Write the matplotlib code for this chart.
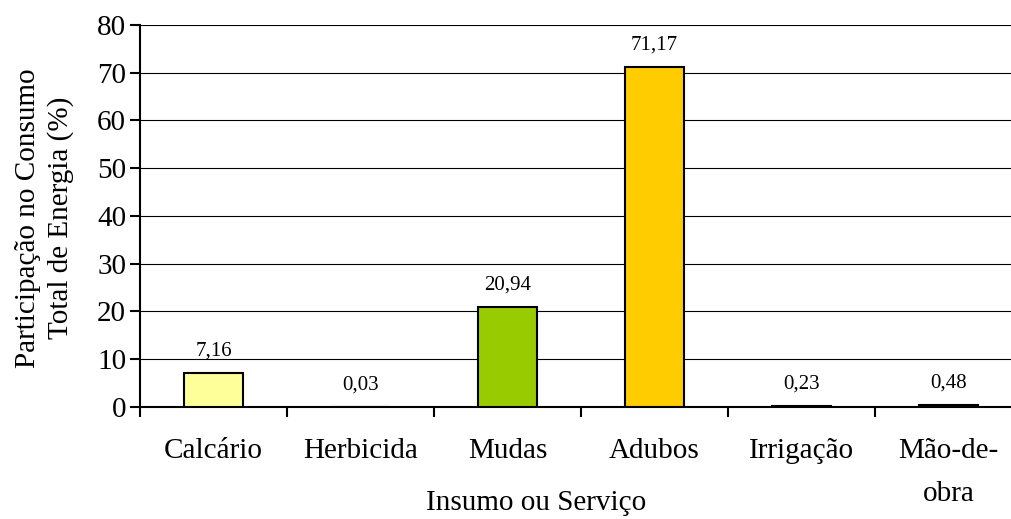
import numpy as np
import matplotlib.pyplot as plt

plt.rcParams['font.family'] = ['Liberation Serif', 'DejaVu Serif']

categorias = ['Calcário', 'Herbicida', 'Mudas', 'Adubos', 'Irrigação', 'Mão-de-\nobra']
valores = [7.16, 0.03, 20.94, 71.17, 0.23, 0.48]
rotulos = ['7,16', '0,03', '20,94', '71,17', '0,23', '0,48']
cores = ['#FFFF99', '#FFFF99', '#99CC00', '#FFCC00', '#000000', '#000000']

fig = plt.figure(figsize=(10.11, 5.19), dpi=100)
ax = fig.add_axes([0.1385, 0.2158, 0.8724, 0.7362])

x = np.arange(len(categorias))
ax.bar(x, valores, width=0.40, color=cores, edgecolor='black', linewidth=1.5, zorder=3)
for xi, v, r in zip(x, valores, rotulos):
    ax.annotate(r, (xi, v), xytext=(0, 9), textcoords='offset points',
                ha='center', va='bottom', fontsize=15)

ax.set_xlim(-0.5, len(categorias) - 0.5)
ax.set_ylim(0, 80)
ax.set_yticks(range(0, 81, 10))
ax.yaxis.grid(True, color='black', linewidth=0.8)
ax.set_axisbelow(True)

ax.set_xticks(x)
ax.set_xticklabels(categorias, fontsize=21, linespacing=1.85, va='top')
ax.tick_params(axis='x', which='major', length=0, pad=22)
ax.set_xticks(np.arange(-0.5, len(categorias)), minor=True)
ax.tick_params(axis='x', which='minor', length=7, width=1.5, direction='out')
ax.tick_params(axis='y', labelsize=21, length=7, width=1.5, direction='out', pad=3)

for s in ['top', 'right']:
    ax.spines[s].set_visible(False)
ax.spines['left'].set_linewidth(1.5)
ax.spines['bottom'].set_linewidth(1.5)

ax.set_xlabel('Insumo ou Serviço', fontsize=21, va='center')
ax.xaxis.set_label_coords(0.449, -0.25)
ax.set_ylabel('Participação no Consumo\nTotal de Energia (%)', fontsize=21, va='center', linespacing=1.3)
ax.yaxis.set_label_coords(-0.108, 0.495)

fig.savefig('out.png', dpi=100)
